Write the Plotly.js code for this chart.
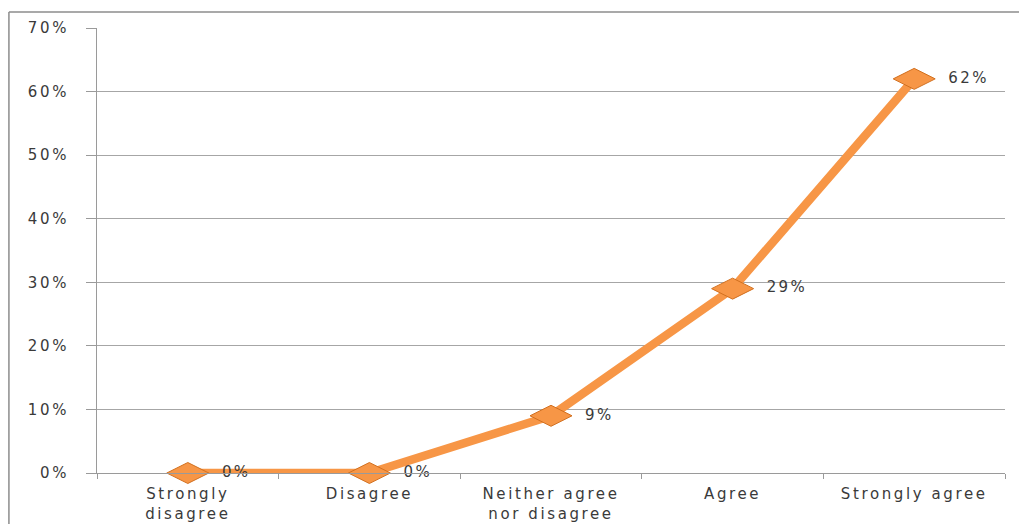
<!DOCTYPE html>
<html>
<head>
<meta charset="utf-8">
<script src="https://cdn.plot.ly/plotly-3.0.1.min.js"></script>
<style>
  html, body { margin: 0; padding: 0; background: #ffffff; }
  #chart { width: 1019px; height: 524px; }
  /* wide, airy lettering for axis and value labels */
  #chart .xtick text, #chart .ytick text { letter-spacing: 2.6px; }
  #chart .textpoint text { letter-spacing: 2.4px; }
</style>
</head>
<body>
<div id="chart"></div>
<script>
// Survey responses on a five-point agreement scale
const categories = ["Strongly<br>disagree", "Disagree", "Neither agree<br>nor disagree", "Agree", "Strongly agree"];
const shares = [0, 0, 9, 29, 62];           // percent of respondents
const yTicks = [0, 10, 20, 30, 40, 50, 60, 70];
const yTickLabels = ["0%", "10%", "20%", "30%", "40%", "50%", "60%", "70%"];

const labels = shares.map(v => "  " + v + "%");

const textColor = "#3a3a3a";
const labelFont = { family: "DejaVu Sans, sans-serif", size: 15, color: textColor };

const trace = {
  type: "scatter",
  mode: "lines+markers+text",
  x: categories,
  y: shares,
  text: labels,
  textposition: "middle right",
  textfont: labelFont,
  line: { color: "#f79646", width: 8.5 },
  marker: {
    symbol: "diamond-wide",
    size: 30,
    color: "#f79646",
    line: { color: "#d2701f", width: 1 }
  },
  cliponaxis: false,
  hoverinfo: "skip"
};

const axisGray = "#9a9a9a";

const layout = {
  width: 1019,
  height: 524,
  margin: { l: 97, r: 14, t: 28, b: 51 },
  paper_bgcolor: "#ffffff",
  plot_bgcolor: "#ffffff",
  showlegend: false,
  font: labelFont,
  xaxis: {
    type: "category",
    range: [-0.5, 4.5],
    tickson: "boundaries",
    ticks: "outside",
    ticklen: 5,
    tickcolor: axisGray,
    ticklabelstandoff: 7,
    showgrid: false,
    showline: true,
    linecolor: axisGray,
    linewidth: 1,
    tickfont: labelFont,
    fixedrange: true
  },
  yaxis: {
    range: [0, 70],
    tickvals: yTicks,
    ticktext: yTickLabels,
    ticks: "outside",
    ticklen: 10,
    tickcolor: axisGray,
    ticklabelstandoff: 14,
    showgrid: true,
    gridcolor: "#a6a6a6",
    gridwidth: 1,
    showline: true,
    linecolor: axisGray,
    linewidth: 1,
    zeroline: false,
    tickfont: labelFont,
    fixedrange: true
  },
  shapes: [
    // chart frame: top and left edges
    { type: "line", xref: "paper", yref: "paper", x0: -0.097, x1: 1.02, y0: 1.036, y1: 1.036,
      line: { color: "#8c8c8c", width: 1.5 } },
    { type: "line", xref: "paper", yref: "paper", x0: -0.097, x1: -0.097, y0: 1.036, y1: -0.12,
      line: { color: "#8c8c8c", width: 1.5 } }
  ]
};

Plotly.newPlot("chart", [trace], layout, { displayModeBar: false, staticPlot: true });
</script>
</body>
</html>
